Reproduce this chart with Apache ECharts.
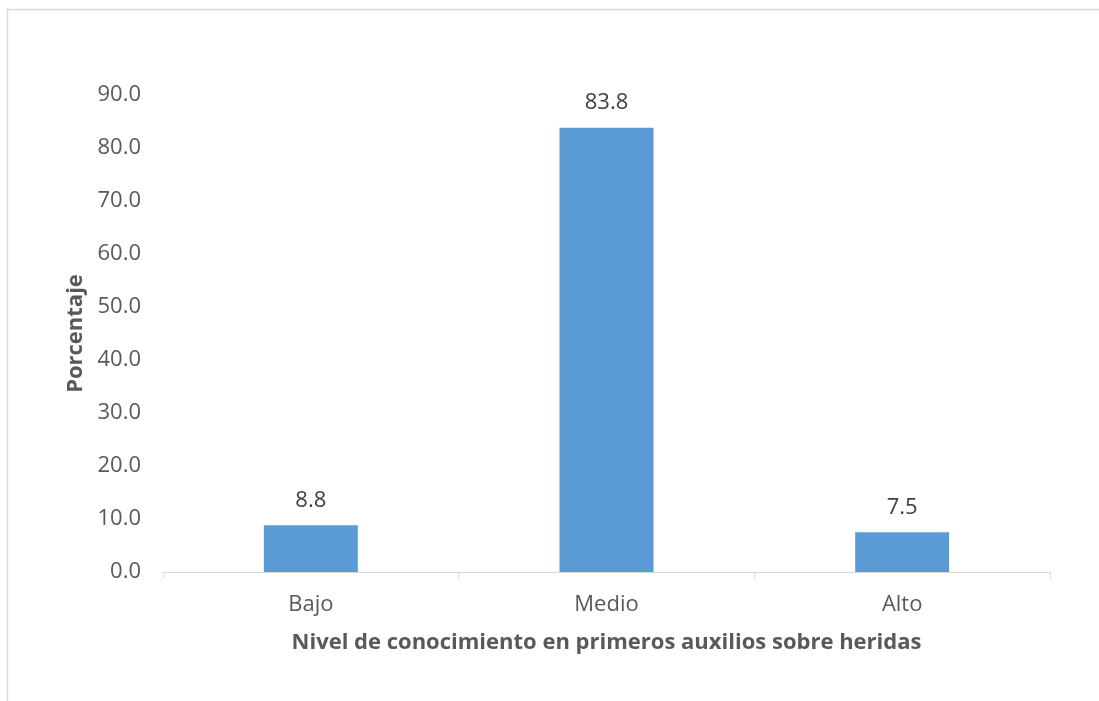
<!DOCTYPE html>
<html>
<head>
<meta charset="utf-8">
<script src="https://cdn.jsdelivr.net/npm/echarts@6/dist/echarts.min.js"></script>
<style>
  html, body { margin: 0; padding: 0; background: #fff; }
  #chart { width: 1099px; height: 701px; }
</style>
</head>
<body>
<div id="chart"></div>
<script>
// Nivel de conocimiento en primeros auxilios sobre heridas
const categories = ['Bajo', 'Medio', 'Alto'];
const porcentajes = [8.8, 83.8, 7.5];
const yTicks = { min: 0, max: 90, interval: 10 };

const FONT = '"Open Sans", "Noto Sans", sans-serif';
const TEXT = '#595959';
const SIZE = 22;

const chart = echarts.init(document.getElementById('chart'), null, { renderer: 'canvas' });
chart.setOption({
  animation: false,
  backgroundColor: '#ffffff',
  graphic: [{
    type: 'rect',
    shape: { x: 7.5, y: 9.5, width: 1200, height: 800 },
    style: { fill: 'none', stroke: '#d9d9d9', lineWidth: 1.5 },
    silent: true
  }],
  grid: { left: 163, right: 49, top: 95, bottom: 129, containLabel: false },
  xAxis: {
    type: 'category',
    data: categories,
    name: 'Nivel de conocimiento en primeros auxilios sobre heridas',
    nameLocation: 'middle',
    nameGap: 60,
    nameTextStyle: { fontFamily: FONT, fontSize: SIZE, fontWeight: 'bold', color: TEXT },
    axisLine: { show: true, lineStyle: { color: '#d9d9d9', width: 1 } },
    axisTick: { show: true, length: 6, alignWithLabel: false, lineStyle: { color: '#d9d9d9' } },
    axisLabel: { fontFamily: FONT, fontSize: SIZE, color: TEXT, margin: 22 },
    splitLine: { show: false }
  },
  yAxis: {
    type: 'value',
    min: yTicks.min,
    max: yTicks.max,
    interval: yTicks.interval,
    name: 'Porcentaje',
    nameLocation: 'middle',
    nameGap: 76,
    nameRotate: 90,
    nameTextStyle: { fontFamily: FONT, fontSize: SIZE, fontWeight: 'bold', color: TEXT },
    axisLine: { show: false },
    axisTick: { show: false },
    splitLine: { show: false },
    axisLabel: {
      fontFamily: FONT, fontSize: SIZE, color: TEXT, margin: 22,
      formatter: v => v.toFixed(1)
    }
  },
  series: [{
    type: 'bar',
    data: porcentajes,
    barWidth: 94,
    itemStyle: { color: '#5b9bd5' },
    label: {
      show: true,
      position: 'top',
      distance: 14,
      fontFamily: FONT,
      fontSize: SIZE,
      color: '#404040',
      formatter: p => p.value.toFixed(1)
    }
  }]
});
</script>
</body>
</html>
